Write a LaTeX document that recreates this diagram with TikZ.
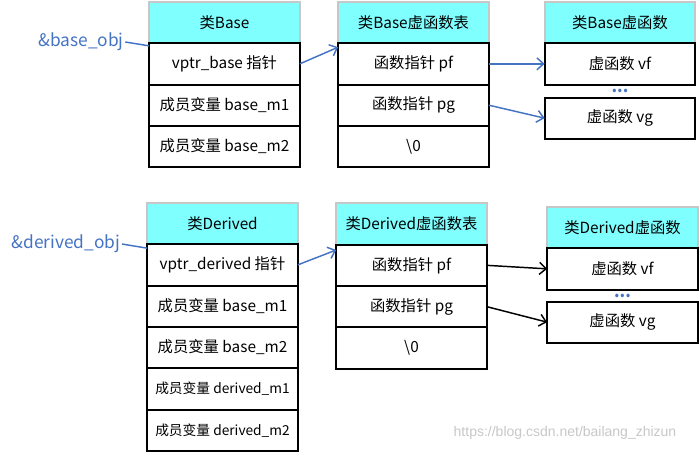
\documentclass[tikz,border=0pt]{standalone}
\usepackage{fontspec}
\setmainfont{Noto Sans CJK SC}
\newfontfamily\marcafont{Liberation Sans}
\usetikzlibrary{arrows.meta,calc,positioning}
\definecolor{cian}{rgb}{0.50, 1.00, 1.00}
\definecolor{grisborde}{rgb}{0.78, 0.78, 0.78}
\definecolor{azuloffice}{rgb}{0.27, 0.45, 0.77}
\tikzset{
  cabecera/.style={
    draw=grisborde,
    fill=cian,
    line width=1.5pt,
    minimum width=113pt,
    minimum height=31pt,
    inner sep=0pt,
    outer sep=0pt,
    font=\fontsize{11.5}{13}\selectfont
  },
  celda/.style={
    draw=black,
    fill=white,
    line width=1.5pt,
    minimum width=113pt,
    minimum height=31pt,
    inner sep=0pt,
    outer sep=0pt,
    font=\fontsize{11.5}{13}\selectfont
  },
  etiqueta/.style={
    text=azuloffice,
    inner sep=1pt,
    font=\fontsize{13}{15}\selectfont
  },
  puntos/.style={
    text=azuloffice,
    inner sep=0pt,
    font=\fontsize{12}{12}\selectfont\bfseries
  },
  enlace/.style={
    line width=1.1pt,
    azuloffice
  },
  flecha/.style={
    -{Straight Barb[length=5pt,width=9pt]},
    line width=1.1pt,
    azuloffice
  },
  flechanegra/.style={
    -{Straight Barb[length=5pt,width=9pt]},
    line width=1.1pt,
    black
  }
}

\begin{document}
\begin{tikzpicture}[x=0.75pt,y=-0.75pt]
\useasboundingbox (0,0) rectangle (700,451);
% clase Base
\node[cabecera] (bclase) at (224.5,22.5) {类Base};
\node[celda, below=0pt of bclase] (bzeiger) {vptr\_base 指针};
\node[celda, below=0pt of bzeiger] (bm1) {成员变量 base\_m1};
\node[celda, below=0pt of bm1] (bm2) {成员变量 base\_m2};
\node[cabecera] (btabla) at (413.5,22.5) {类Base虚函数表};
\node[celda, below=0pt of btabla] (btab1) {函数指针 pf};
\node[celda, below=0pt of btab1] (btab2) {函数指针 pg};
\node[celda, below=0pt of btab2] (btab3) {\textbackslash 0};
\node[cabecera] (bvirt) at (620,22.5) {类Base虚函数};
\node[celda, below=0pt of bvirt] (bfun1) {虚函数 vf};
\node[celda, below=9.75pt of bfun1] (bfun2) {虚函数 vg};
\node[puntos] (bpuntos) at ($(bfun1.south)!0.5!(bfun2.north)$) {...};
\node[etiqueta] (bobj) at (81,42) {\&base\_obj};
\draw[enlace] (bobj.east) -- ([yshift=-2pt]bzeiger.north west);
\draw[flecha] (bzeiger.east) -- ([yshift=-3pt]btab1.north west);
\draw[flecha] (btab1.east) -- (bfun1.west);
\draw[flecha] (btab2.east) -- (bfun2.west);
% clase Derived
\node[cabecera] (dclase) at (222.5,223.5) {类Derived};
\node[celda, below=0pt of dclase] (dzeiger) {vptr\_derived 指针};
\node[celda, below=0pt of dzeiger] (dm1) {成员变量 base\_m1};
\node[celda, below=0pt of dm1] (dm2) {成员变量 base\_m2};
\node[celda, below=0pt of dm2, font=\fontsize{10.3}{12}\selectfont] (dm3) {成员变量 derived\_m1};
\node[celda, below=0pt of dm3, font=\fontsize{10.3}{12}\selectfont] (dm4) {成员变量 derived\_m2};
\node[cabecera] (dtabla) at (411.5,224) {类Derived虚函数表};
\node[celda, below=0pt of dtabla] (dtab1) {函数指针 pf};
\node[celda, below=0pt of dtab1] (dtab2) {函数指针 pg};
\node[celda, below=0pt of dtab2] (dtab3) {\textbackslash 0};
\node[cabecera] (dvirt) at (622.5,227.5) {类Derived虚函数};
\node[celda, below=0pt of dvirt] (dfun1) {虚函数 vf};
\node[celda, below=9pt of dfun1] (dfun2) {虚函数 vg};
\node[puntos] (dpuntos) at ($(dfun1.south)!0.5!(dfun2.north)$) {...};
\node[etiqueta] (dobj) at (66,244) {\&derived\_obj};
\draw[enlace] (dobj.east) -- ([yshift=-3pt]dzeiger.north west);
\draw[flecha] (dzeiger.east) -- ([yshift=-4pt]dtab1.north west);
\draw[flechanegra] (dtab1.east) -- (dfun1.west);
\draw[flechanegra] (dtab2.east) -- (dfun2.west);
% marca de agua
\node[text=black!22, font=\marcafont\fontsize{10.5}{12}\selectfont] (marca) at (565,433) {https://blog.csdn.net/bailang\_zhizun};
\end{tikzpicture}
\end{document}
